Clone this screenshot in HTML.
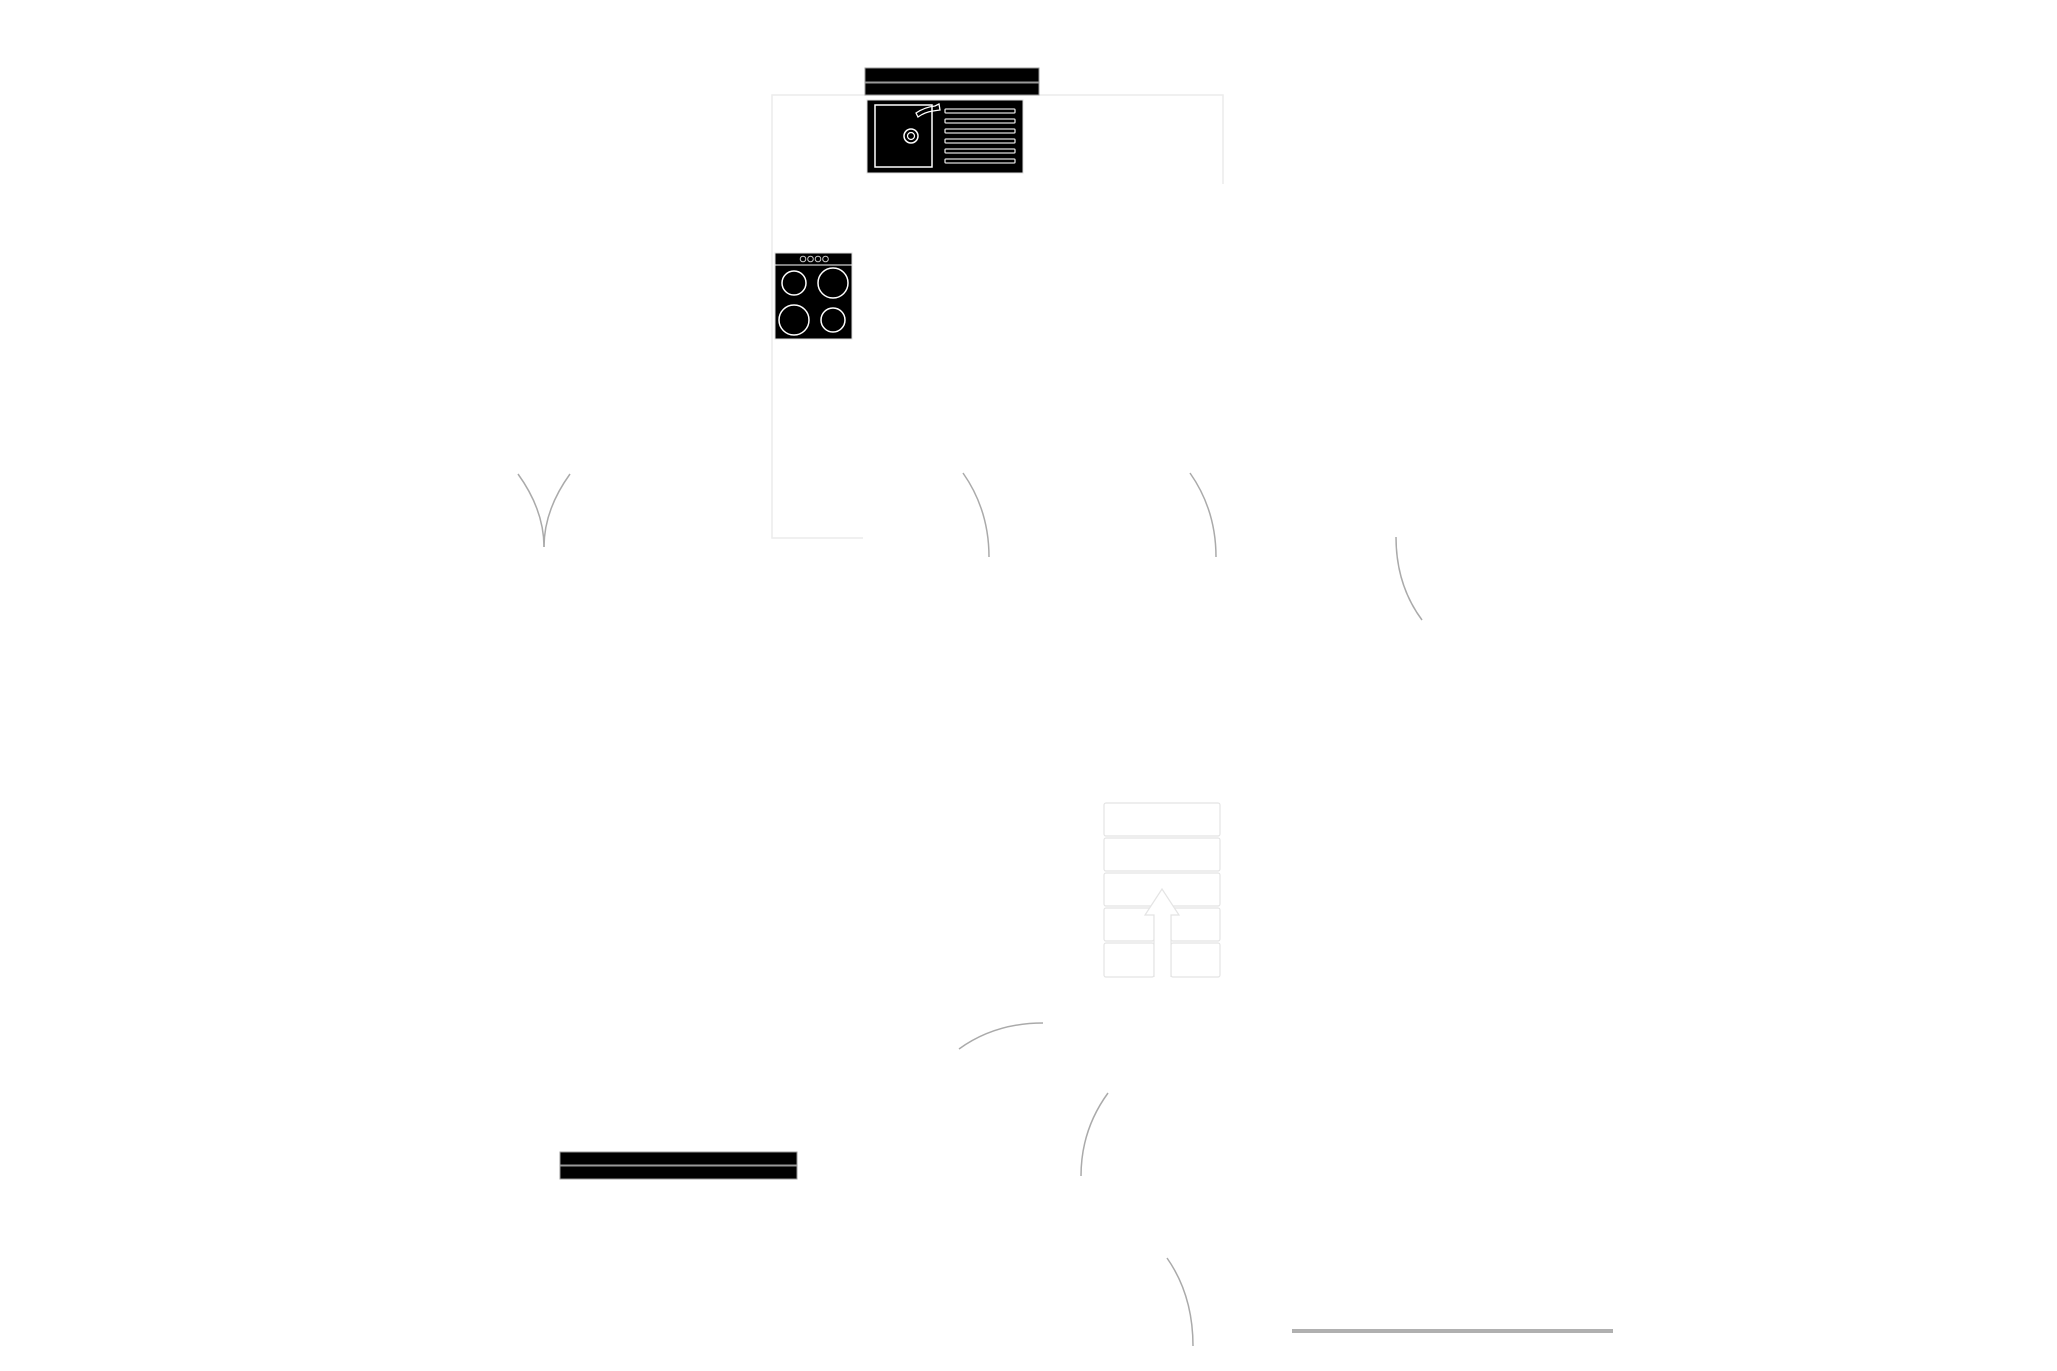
<!DOCTYPE html>
<html><head><meta charset="utf-8"><style>
html,body{margin:0;padding:0;background:#fff;}
svg{display:block;}
</style></head><body>
<svg width="2057" height="1371" viewBox="0 0 2057 1371" xmlns="http://www.w3.org/2000/svg">
<rect width="2057" height="1371" fill="#fff"/>
<!-- counter outline -->
<g stroke="#ececec" stroke-width="1.5" fill="none">
<path d="M1223 184 V95 H772 V538 H863"/>
</g>
<!-- top window -->
<rect x="865" y="68" width="174" height="14" fill="#000" stroke="#999" stroke-width="1"/>
<rect x="865" y="83" width="174" height="12" fill="#000" stroke="#999" stroke-width="1"/>
<!-- sink -->
<rect x="867" y="100" width="156" height="73" fill="#000" stroke="#ddd" stroke-width="1"/>
<rect x="875" y="105" width="57" height="62" fill="none" stroke="#fff" stroke-width="1.5"/>
<circle cx="911" cy="136" r="7" fill="none" stroke="#fff" stroke-width="1.5"/>
<circle cx="911" cy="136" r="3.5" fill="none" stroke="#fff" stroke-width="1.2"/>
<path d="M916 113 Q925 107 935 106 L939 104 L940 110 L933 111 Q925 112 918 117 Z" fill="none" stroke="#fff" stroke-width="1.3"/>
<g fill="none" stroke="#ddd" stroke-width="1.3">
<rect x="945" y="109" width="70" height="4" rx="1"/>
<rect x="945" y="119" width="70" height="4" rx="1"/>
<rect x="945" y="129" width="70" height="4" rx="1"/>
<rect x="945" y="139" width="70" height="4" rx="1"/>
<rect x="945" y="149" width="70" height="4" rx="1"/>
<rect x="945" y="159" width="70" height="4" rx="1"/>
</g>
<!-- stove -->
<rect x="775" y="253" width="77" height="86" fill="#000" stroke="#ddd" stroke-width="1"/>
<line x1="775" y1="265" x2="852" y2="265" stroke="#fff" stroke-width="1"/>
<g fill="none" stroke="#ccc" stroke-width="1">
<circle cx="803" cy="259" r="2.8"/><circle cx="810.5" cy="259" r="2.8"/><circle cx="818" cy="259" r="2.8"/><circle cx="825.5" cy="259" r="2.8"/>
</g>
<g fill="none" stroke="#fff" stroke-width="1.5">
<circle cx="794" cy="283" r="12"/><circle cx="833" cy="283" r="15"/>
<circle cx="794" cy="320" r="15"/><circle cx="833" cy="320" r="12"/>
</g>
<!-- door arcs -->
<g fill="none" stroke="#aaa" stroke-width="1.5">
<path d="M518 474 Q544 510 544 547"/>
<path d="M570 474 Q544 510 544 547"/>
<path d="M963 473 Q989 510 989 557"/>
<path d="M1190 473 Q1216 510 1216 557"/>
<path d="M1396 537 Q1396 585 1422 620"/>
<path d="M959 1049 Q995 1023 1043 1023"/>
<path d="M1108 1093 Q1081 1130 1081 1176"/>
<path d="M1167 1258 Q1193 1295 1193 1346"/>
</g>
<!-- stairs -->
<g fill="none" stroke="#e4e4e4" stroke-width="1.2">
<rect x="1104" y="803" width="116" height="33" rx="2"/>
<rect x="1104" y="838" width="116" height="33" rx="2"/>
<rect x="1104" y="873" width="116" height="33" rx="2"/>
<rect x="1104" y="908" width="50" height="33" rx="2"/>
<rect x="1171" y="908" width="49" height="33" rx="2"/>
<rect x="1104" y="943" width="50" height="34" rx="2"/>
<rect x="1171" y="943" width="49" height="34" rx="2"/>
<path d="M1154 977 V915 H1145 L1162 889 L1179 915 H1171 V977" fill="#fff"/>
</g>
<!-- bottom window -->
<rect x="560" y="1152" width="237" height="13" fill="#000" stroke="#999" stroke-width="1"/>
<rect x="560" y="1166" width="237" height="13" fill="#000" stroke="#999" stroke-width="1"/>
<!-- gray line -->
<rect x="1292" y="1329" width="321" height="4" fill="#b0b0b0"/>
</svg>
</body></html>
